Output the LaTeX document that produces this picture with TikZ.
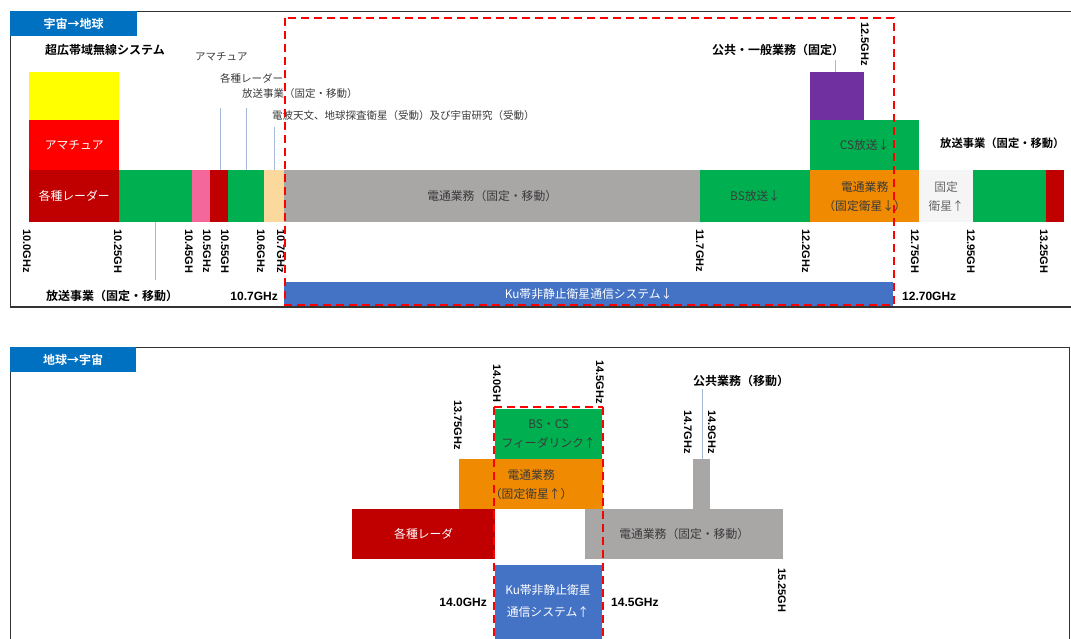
\documentclass[tikz,border=0pt]{standalone}
\usepackage{fontspec}
\setmainfont{Noto Sans CJK JP}[BoldFont={Noto Sans CJK JP Bold}]
\newfontfamily\lat{Liberation Sans}
\definecolor{cTab}{HTML}{0070C0}
\definecolor{cKu}{HTML}{4472C4}
\definecolor{cGreen}{HTML}{00B050}
\definecolor{cRed}{HTML}{FF0000}
\definecolor{cDRed}{HTML}{C00000}
\definecolor{cYellow}{HTML}{FFFF00}
\definecolor{cPink}{HTML}{F4679B}
\definecolor{cTan}{HTML}{FBD89B}
\definecolor{cGray}{HTML}{A9A6A6}
\definecolor{cOrange}{HTML}{F08A00}
\definecolor{cPurple}{HTML}{7030A0}
\definecolor{cLead}{HTML}{A8B8D8}
\definecolor{cTxt}{HTML}{3A3A3A}
\newcommand{\fsz}[1]{\fontsize{#1}{#1}\selectfont}
\tikzset{
  bar/.style={draw=none, inner sep=0pt, anchor=north west, align=center,
    text=cTxt, font=\fontsize{11.8}{19}\selectfont},
  tab/.style={fill=cTab, inner sep=0pt, anchor=north west, text=white,
    font=\bfseries\fsz{12}},
  freq/.style={rotate=-90, anchor=west, inner sep=0pt, font=\lat\bfseries\fsz{11}},
  flab/.style={inner sep=0pt, font=\lat\bfseries\fsz{12}},
  hdr/.style={inner sep=0pt, font=\bfseries\fsz{12}},
  small/.style={inner sep=0pt, anchor=west, text=cTxt, font=\fsz{10.5}},
  lead/.style={draw=cLead, line width=0.6pt},
  frame/.style={draw=black!80, line width=0.8pt},
  reddash/.style={draw=cRed, line width=2pt, dash pattern=on 8pt off 5pt}
}
\begin{document}
\begin{tikzpicture}[x=1pt, y=-1pt]
\useasboundingbox (0,0) rectangle (1071,639);
% ---------------- top panel ----------------
\draw[frame] (1071,11) -- (10,11) -- (10,307);
\draw[frame, line width=1.2pt] (10,307) -- (1071,307);
\node[tab, minimum width=127, minimum height=25] (tabT) at (10,11) {宇宙→地球};

\node[hdr] (uwb) at (105,50) {超広帯域無線システム};
\node[hdr] (pub) at (778,50) {公共・一般業務（固定）};
\node[hdr, anchor=west, font=\bfseries\fsz{11.3}] (bcR) at (940,143) {放送事業（固定・移動）};

\node[small] (sAma) at (195,57) {アマチュア};
\node[small] (sRad) at (220,78) {各種レーダー};
\node[small] (sBc) at (242,94) {放送事業（固定・移動）};
\node[small] (sRa) at (272,116) {電波天文、地球探査衛星（受動）及び宇宙研究（受動）};

% bars
\node[bar, fill=cYellow, minimum width=90, minimum height=48] (yel) at (29,72) {};
\node[bar, fill=cRed, minimum width=90, minimum height=50, text=white] (ama) at (29,120) {アマチュア};
\node[bar, fill=cDRed, minimum width=90, minimum height=52, text=white] (rad) at (29,170) {各種レーダー};
\node[bar, fill=cGreen, minimum width=73, minimum height=52] (g1) at (119,170) {};
\node[bar, fill=cPink, minimum width=18, minimum height=52] (pk) at (192,170) {};
\node[bar, fill=cDRed, minimum width=18, minimum height=52] (dr2) at (210,170) {};
\node[bar, fill=cGreen, minimum width=36, minimum height=52] (g2) at (228,170) {};
\node[bar, fill=cTan, minimum width=20, minimum height=52] (tan) at (264,170) {};
\node[bar, fill=cGray, minimum width=416, minimum height=52] (gr) at (284,170) {電通業務（固定・移動）};
\node[bar, fill=cGreen, minimum width=110, minimum height=52] (bs) at (700,170) {BS放送↓};
\node[bar, fill=cOrange, minimum width=109, minimum height=52] (or) at (810,170) {電通業務\\（固定衛星↓）};
\node[bar, fill=cGreen, minimum width=109, minimum height=50] (cs) at (810,120) {CS放送↓};
\node[bar, fill=cPurple, minimum width=54, minimum height=48] (pu) at (810,72) {};
\node[bar, fill=black!4, minimum width=54, minimum height=52, text=black!60] (fx) at (919,170) {固定\\衛星↑};
\node[bar, fill=cGreen, minimum width=73, minimum height=52] (g3) at (973,170) {};
\node[bar, fill=cDRed, minimum width=18, minimum height=52] (dr3) at (1046,170) {};

% leader lines
\coordinate (l1) at (220,108);
\coordinate (l2) at (246,108);
\coordinate (l3) at (274,127);
\coordinate (l4) at (155,222);
\coordinate (l5) at (835,60);
\draw[lead] (l1) -- (l1 |- dr2.north);
\draw[lead] (l2) -- (l2 |- g2.north);
\draw[lead] (l3) -- (l3 |- tan.north);
\draw[lead] (l4) -- ++(0,58);
\draw[lead] (l5) -- (l5 |- pu.north);

% frequency labels
\foreach \xx/\t/\n in {27/10.0GHz/f1, 118/10.25GH/f2, 189/10.45GH/f3, 207/10.5GHz/f4,
  225/10.55GH/f5, 261/10.6GHz/f6, 281/10.7GHz/f7, 700/11.7GHz/f8, 806/12.2GHz/f9,
  915/12.75GH/f10, 971/12.95GH/f11, 1044/13.25GH/f12}
  \node[freq] (\n) at (\xx,229) {\t};
\node[freq] (f13) at (865,22) {12.5GHz};

% bottom row
\node[hdr] (bcL) at (112,296) {放送事業（固定・移動）};
\node[flab, anchor=east] (k1) at (278,296) {10.7GHz};
\node[bar, fill=cKu, minimum width=609, minimum height=24, text=white] (kuT) at (284,282) {Ku帯非静止衛星通信システム↓};
\node[flab, anchor=west] (k2) at (902,296) {12.70GHz};

\draw[reddash] (285,18) rectangle (894,305);

% ---------------- bottom panel ----------------
\draw[frame] (10,639) -- (10,347) -- (1069,347) -- (1069,639);
\node[tab, minimum width=126, minimum height=25] (tabB) at (10,347) {地球→宇宙};

\node[bar, fill=cGreen, minimum width=107, minimum height=50] (fd) at (495,409) {BS・CS\\フィーダリンク↑};
\node[bar, fill=cOrange, minimum width=144, minimum height=50] (or2) at (459,459) {電通業務\\（固定衛星↑）};
\node[bar, fill=cDRed, minimum width=143, minimum height=50, text=white] (rad2) at (352,509) {各種レーダ};
\node[bar, fill=cGray, minimum width=17, minimum height=50] (gs) at (693,459) {};
\node[bar, fill=cGray, minimum width=198, minimum height=50] (gr2) at (585,509) {電通業務（固定・移動）};
\node[bar, fill=cKu, minimum width=107, minimum height=80] (kuB) at (495,565) {};
\node[align=center, text=white, font=\fontsize{11.8}{22}\selectfont, inner sep=0pt] (kuBt) at (548,601) {Ku帯非静止衛星\\通信システム↑};

\node[hdr] (pubm) at (741,381) {公共業務（移動）};
\coordinate (l6) at (702,389);
\draw[lead] (l6) -- (l6 |- gs.north);

\node[freq] (b1) at (497,364) {14.0GH};
\node[freq] (b2) at (600,360) {14.5GHz};
\node[freq] (b3) at (458,400) {13.75GHz};
\node[freq] (b4) at (688,410) {14.7GHz};
\node[freq] (b5) at (712,410) {14.9GHz};
\node[freq] (b6) at (782,568) {15.25GH};

\node[flab, anchor=east] (b7) at (487,602) {14.0GHz};
\node[flab, anchor=west] (b8) at (611,602) {14.5GHz};

\draw[reddash] (494,407) -- (494,645) (603,407) -- (603,645) (494,407) -- (603,407);
\end{tikzpicture}
\end{document}
